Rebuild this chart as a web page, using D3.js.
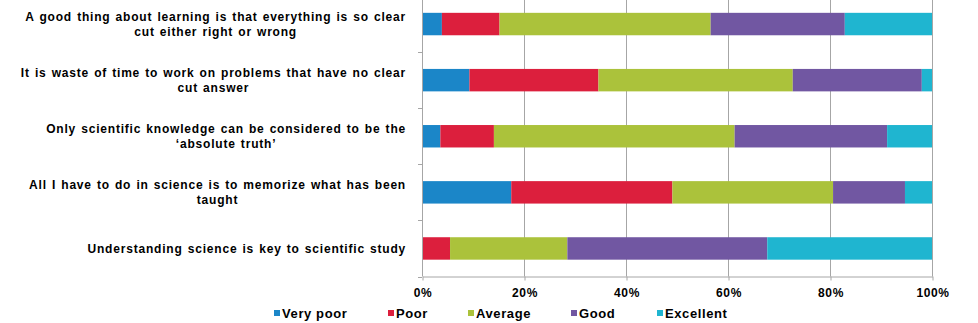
<!DOCTYPE html>
<html>
<head>
<meta charset="utf-8">
<script src="https://cdn.jsdelivr.net/npm/d3@7"></script>
<style>
  html, body { margin: 0; padding: 0; background: #fff; }
  svg { display: block; font-family: "Liberation Sans", Arial, sans-serif; }
</style>
</head>
<body>
<svg id="chart" width="978" height="323"></svg>
<script>
// Survey statements, each split into its display lines
const statements = [
  ["A good thing about learning is that everything  is so clear", "cut either right or wrong"],
  ["It is waste of time to work on problems that have no clear", "cut answer"],
  ["Only scientific knowledge can be considered to be the", "\u2018absolute truth\u2019"],
  ["All I have to do in science is to memorize what has been", "taught"],
  ["Understanding science is key to scientific study"]
];

const ratings = ["Very poor", "Poor", "Average", "Good", "Excellent"];
const ratingColors = ["#1b86c8", "#dc1f3d", "#abc23b", "#7157a2", "#1fb5d0"];

// Percentage of responses per rating, one array per rating (statement order as above)
const veryPoor  = [3.9, 9.3, 3.6, 17.5, 0];
const poor      = [11.3, 25.3, 10.5, 31.6, 5.5];
const average   = [41.4, 38.1, 47.2, 31.5, 23.0];
const good      = [26.3, 25.3, 29.9, 14.1, 39.2];
const excellent = [17.1, 2.0, 8.8, 5.3, 32.3];

const xTicks = [0, 0.2, 0.4, 0.6, 0.8, 1.0];

const seriesValues = [veryPoor, poor, average, good, excellent];
const rows = statements.map((s, i) => {
  const r = { id: i };
  ratings.forEach((k, j) => { r[k] = seriesValues[j][i]; });
  return r;
});

const svg = d3.select("#chart");
const plot = { left: 422, right: 932, top: -4, bottom: 276.5 };

const x = d3.scaleLinear().domain([0, 1]).range([plot.left, plot.right]);
const y = d3.scaleBand().domain(d3.range(statements.length))
  .range([plot.top, plot.bottom]).paddingInner(0.6).paddingOuter(0.3);

const gridColor = "#a6a6a6";

// vertical gridlines
svg.append("g").selectAll("line").data(xTicks.slice(1)).join("line")
  .attr("x1", d => x(d) + 0.5).attr("x2", d => x(d) + 0.5)
  .attr("y1", plot.top).attr("y2", plot.bottom)
  .attr("stroke", gridColor).attr("stroke-width", 1);

// stacked bars (normalised to 100%)
const stack = d3.stack().keys(ratings).offset(d3.stackOffsetExpand);
const layers = stack(rows);

svg.append("g").selectAll("g").data(layers).join("g")
  .attr("fill", (d, i) => ratingColors[i])
  .selectAll("rect").data(d => d).join("rect")
  .attr("x", d => x(d[0]))
  .attr("width", d => Math.max(0, x(d[1]) - x(d[0])))
  .attr("y", (d, i) => y(i))
  .attr("height", y.bandwidth());

// x axis
const xAxis = d3.axisBottom(x).tickValues(xTicks).tickFormat(d3.format(".0%"))
  .tickSizeInner(4).tickSizeOuter(0).tickPadding(6);
const gx = svg.append("g").attr("transform", `translate(0.5,${plot.bottom})`).call(xAxis);
gx.select(".domain").attr("stroke", gridColor);
gx.selectAll(".tick line").attr("stroke", gridColor);
gx.selectAll(".tick text").attr("fill", "#000").attr("font-size", 12)
  .attr("font-weight", "bold").attr("font-family", "Liberation Sans, Arial, sans-serif")
  .attr("letter-spacing", "0.6px").attr("dy", "0.9em");

// y axis: line with ticks at category boundaries
const step = y.step();
svg.append("line").attr("x1", plot.left + 0.5).attr("x2", plot.left + 0.5)
  .attr("y1", plot.top).attr("y2", plot.bottom).attr("stroke", gridColor);
svg.append("g").selectAll("line").data(d3.range(1, statements.length + 1)).join("line")
  .attr("x1", plot.left - 4).attr("x2", plot.left)
  .attr("y1", i => Math.round(y(i - 1) + y.bandwidth() / 2 + step / 2) + 0.5)
  .attr("y2", i => Math.round(y(i - 1) + y.bandwidth() / 2 + step / 2) + 0.5)
  .attr("stroke", gridColor);

// category labels: centred multi-line blocks right-aligned against the axis
const labelRight = 406;
const lineH = 15;
const lg = svg.append("g").attr("font-size", 12).attr("font-weight", "bold")
  .attr("fill", "#000").attr("letter-spacing", "0.8px").attr("word-spacing", "1px");
statements.forEach((lines, i) => {
  const cy = y(i) + y.bandwidth() / 2;
  const t = lg.append("text").attr("text-anchor", "middle");
  lines.forEach((ln, k) => {
    t.append("tspan").text(ln)
      .attr("y", cy + (k - (lines.length - 1) / 2) * lineH)
      .attr("dy", "0.35em");
  });
  // centre the block so that its widest line ends at labelRight
  const w = d3.max(t.selectAll("tspan").nodes(), n => n.getComputedTextLength());
  t.selectAll("tspan").attr("x", labelRight - w / 2);
});

// legend
const legendX = [274, 388, 468, 571, 657];
const lgd = svg.append("g").attr("font-size", 13).attr("font-weight", "bold")
  .attr("letter-spacing", "0.6px");
ratings.forEach((r, i) => {
  lgd.append("rect").attr("x", legendX[i]).attr("y", 310).attr("width", 6).attr("height", 6)
    .attr("fill", ratingColors[i]);
  lgd.append("text").attr("x", legendX[i] + 8).attr("y", 313).attr("dy", "0.35em")
    .attr("fill", "#000").text(r);
});
</script>
</body>
</html>
